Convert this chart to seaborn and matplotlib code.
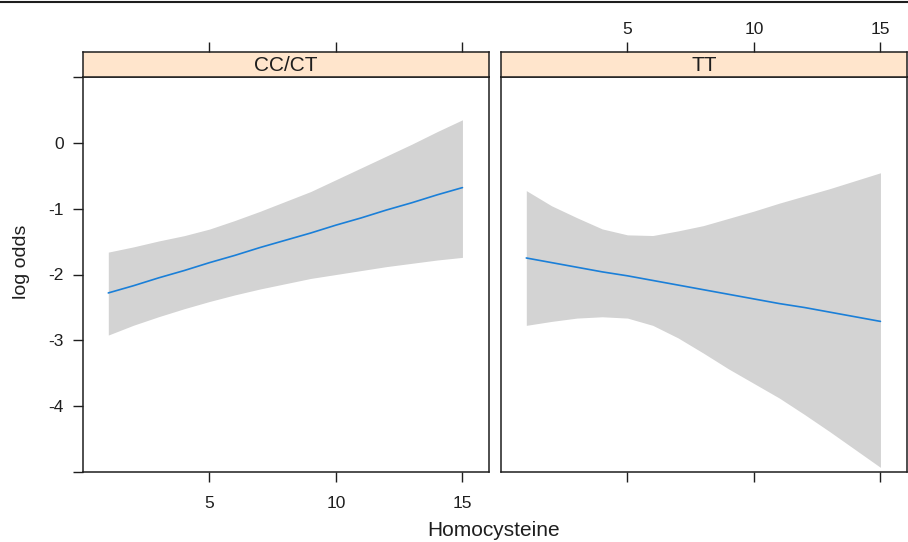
import numpy as np
import pandas as pd
import matplotlib.pyplot as plt
import seaborn as sns

# Homocysteine values (x) and fitted log odds with confidence band, per genotype panel
hcy = [1, 2, 3, 4, 5, 6, 7, 8, 9, 10, 11, 12, 13, 14, 15]

cc_fit = [-2.28, -2.17, -2.05, -1.94, -1.82, -1.71, -1.59, -1.48,
          -1.37, -1.25, -1.14, -1.02, -0.91, -0.79, -0.68]
cc_upper = [-1.66, -1.58, -1.49, -1.41, -1.31, -1.18, -1.04, -0.89,
            -0.74, -0.56, -0.38, -0.20, -0.02, 0.17, 0.35]
cc_lower = [-2.92, -2.77, -2.64, -2.52, -2.41, -2.31, -2.22, -2.14,
            -2.06, -2.00, -1.94, -1.88, -1.83, -1.78, -1.74]

tt_fit = [-1.74, -1.81, -1.88, -1.95, -2.01, -2.08, -2.15, -2.22,
          -2.29, -2.36, -2.43, -2.49, -2.56, -2.63, -2.70]
tt_upper = [-0.72, -0.95, -1.13, -1.30, -1.39, -1.40, -1.33, -1.25,
            -1.14, -1.03, -0.91, -0.80, -0.69, -0.57, -0.45]
tt_lower = [-2.76, -2.70, -2.65, -2.63, -2.65, -2.76, -2.95, -3.18,
            -3.42, -3.64, -3.86, -4.11, -4.37, -4.64, -4.91]

panels = ["CC/CT", "TT"]
x_ticks = [5, 10, 15]
y_ticks = [-5, -4, -3, -2, -1, 0, 1]
y_tick_labels = ["", "-4", "-3", "-2", "-1", "0", ""]

df = pd.concat([
    pd.DataFrame({"Homocysteine": hcy, "fit": cc_fit, "upper": cc_upper,
                  "lower": cc_lower, "genotype": "CC/CT"}),
    pd.DataFrame({"Homocysteine": hcy, "fit": tt_fit, "upper": tt_upper,
                  "lower": tt_lower, "genotype": "TT"}),
])

sns.set_style("white")
plt.rcParams["font.family"] = ["Liberation Sans", "DejaVu Sans"]

fig = plt.figure(figsize=(9.08, 5.42), dpi=100)
W, H = 908, 542

def fx(px):
    return px / W

def fy(py):
    return 1 - py / H

panel_left = [83, 501]
panel_w = 406
panel_top, panel_bot, strip_top = 77, 472, 52
ink = "#1e1e1e"

for i, name in enumerate(panels):
    sub = df[df["genotype"] == name]
    ax = fig.add_axes([fx(panel_left[i]), fy(panel_bot), panel_w / W,
                       (panel_bot - panel_top) / H])
    ax.fill_between(sub["Homocysteine"], sub["lower"], sub["upper"],
                    color="#d3d3d3", linewidth=0)
    sns.lineplot(data=sub, x="Homocysteine", y="fit", ax=ax,
                 color="#1a7fd8", linewidth=1.2)
    ax.set_xlim(0, 16.05)
    ax.set_ylim(-4.98, 1.0)
    ax.set_xlabel("")
    ax.set_ylabel("")
    for s in ax.spines.values():
        s.set_color(ink)
        s.set_linewidth(1.1)
    ax.set_xticks(x_ticks)
    if i == 0:
        ax.set_yticks(y_ticks)
        ax.set_yticklabels(y_tick_labels)
        ax.tick_params(axis="y", left=True, direction="out", length=7,
                       width=1, pad=7, labelsize=12.5, colors=ink)
        ax.tick_params(axis="x", bottom=True, direction="out", length=7,
                       width=1, pad=10, labelsize=12.5, colors=ink)
    else:
        ax.set_yticks([])
        ax.tick_params(axis="x", bottom=True, direction="out", length=7,
                       width=1, labelbottom=False, colors=ink)

    # strip header
    st = fig.add_axes([fx(panel_left[i]), fy(panel_top), panel_w / W,
                       (panel_top - strip_top) / H])
    st.set_facecolor("#ffe5cc")
    st.set_xlim(0, 16.05)
    st.set_ylim(0, 1)
    st.set_yticks([])
    st.set_xticks(x_ticks)
    st.xaxis.set_ticks_position("top")
    st.tick_params(axis="x", top=True, bottom=False, direction="out",
                   length=7, width=1, pad=4, labelsize=12.5,
                   labeltop=(i == 1), labelbottom=False, colors=ink)
    for s in st.spines.values():
        s.set_color(ink)
        s.set_linewidth(1.1)
    st.text(0.5, 0.45, name, transform=st.transAxes, ha="center",
            va="center", fontsize=15, color=ink)

fig.text(fx(494), fy(531), "Homocysteine", ha="center", va="center",
         fontsize=15, color=ink)
fig.text(fx(22), fy(262), "log odds", ha="center", va="center",
         rotation=90, fontsize=14, color=ink)

# thin rule at the very top of the figure
fig.add_artist(plt.Line2D([0, 1], [fy(2), fy(2)], color=ink,
                          linewidth=1.5, transform=fig.transFigure))

plt.savefig("out.png", dpi=100)
